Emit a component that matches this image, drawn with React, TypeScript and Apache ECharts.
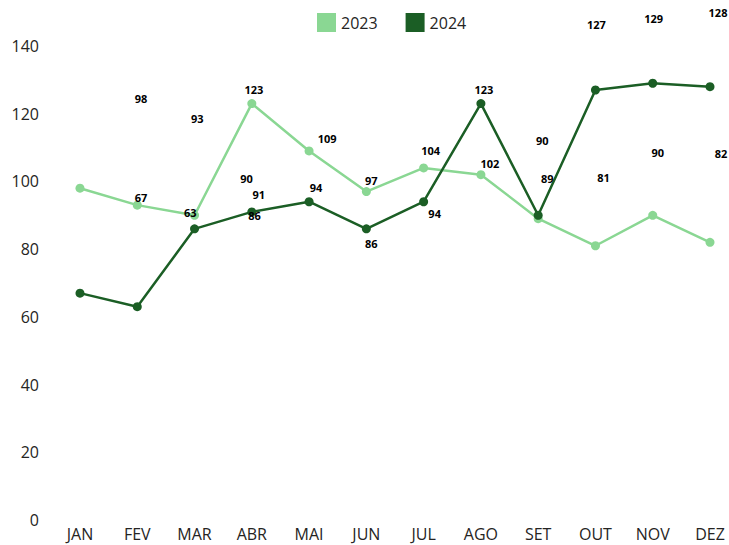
import React, { useEffect, useRef } from "react";
import * as echarts from "echarts";

const months = ["JAN", "FEV", "MAR", "ABR", "MAI", "JUN", "JUL", "AGO", "SET", "OUT", "NOV", "DEZ"];
const values2023 = [98, 93, 90, 123, 109, 97, 104, 102, 89, 81, 90, 82];
const values2024 = [67, 63, 86, 91, 94, 86, 94, 123, 90, 127, 129, 128];

// label offsets (px) relative to each point, as in the reference
const offsets2023: [number, number][] = [
  [61, -90], [60, -87], [52, -37], [2, -14], [18, -12], [5, -11],
  [7, -17], [9, -11], [9, -40], [8, -68], [5, -63], [11, -89],
];
const offsets2024: [number, number][] = [
  [61, -96], [53, -94], [60, -13], [7, -17], [7, -14], [5, 15],
  [11, 12], [3, -14], [4, -75], [1, -66], [1, -65], [8, -74],
];

const FONT = "'Open Sans', 'Noto Sans', sans-serif";

function buildData(values: number[], offs: [number, number][]) {
  return values.map((v, i) => ({
    value: v,
    label: { offset: offs[i] },
  }));
}

export default function App() {
  const ref = useRef<HTMLDivElement>(null);
  useEffect(() => {
    if (!ref.current) return;
    const chart = echarts.init(ref.current, undefined, { renderer: "svg" });
    const labelStyle = {
      show: true,
      position: "inside",
      color: "#000",
      fontFamily: FONT,
      fontWeight: "bold",
      fontSize: 11,
    };
    chart.setOption({
      animation: false,
      legend: {
        top: 8,
        left: 312,
        itemWidth: 19,
        itemHeight: 19,
        itemGap: 28,
        icon: "rect",
        textStyle: { fontFamily: FONT, fontSize: 16, color: "#252423" },
        data: ["2023", "2024"],
      },
      grid: { left: 80, right: 19, top: 46, bottom: 25, containLabel: false },
      xAxis: {
        type: "category",
        data: months,
        boundaryGap: false,
        axisLine: { show: false },
        axisTick: { show: false },
        splitLine: { show: false },
        axisLabel: { fontFamily: FONT, fontSize: 16, color: "#252423", margin: 6, lineHeight: 16 },
      },
      yAxis: {
        type: "value",
        min: 0,
        max: 140,
        interval: 20,
        axisLine: { show: false },
        axisTick: { show: false },
        splitLine: { show: false },
        axisLabel: { fontFamily: FONT, fontSize: 16, color: "#252423", margin: 41 },
      },
      series: [
        {
          name: "2023",
          type: "line",
          data: buildData(values2023, offsets2023),
          color: "#8ad793",
          lineStyle: { width: 2.5, color: "#8ad793" },
          itemStyle: { color: "#8ad793" },
          symbol: "circle",
          symbolSize: 9,
          label: labelStyle,
        },
        {
          name: "2024",
          type: "line",
          data: buildData(values2024, offsets2024),
          color: "#1b5e25",
          lineStyle: { width: 2.5, color: "#1b5e25" },
          itemStyle: { color: "#1b5e25" },
          symbol: "circle",
          symbolSize: 9,
          label: labelStyle,
        },
      ],
    });
    return () => chart.dispose();
  }, []);
  return <div ref={ref} style={{ width: 729, height: 545, position: "absolute", left: 0, top: 0 }} />;
}
